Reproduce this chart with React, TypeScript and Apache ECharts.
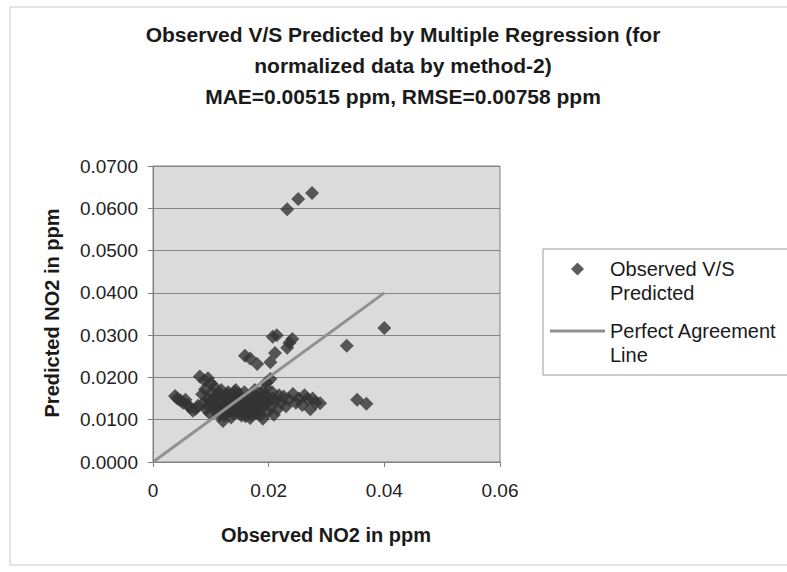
import React, { useEffect, useRef } from "react";
import * as echarts from "echarts";

const titleLines = [
  "Observed V/S Predicted by Multiple Regression (for",
  "normalized data by method-2)",
  "MAE=0.00515 ppm, RMSE=0.00758 ppm",
];
const xAxisTitle = "Observed NO2 in ppm";
const yAxisTitle = "Predicted NO2 in ppm";
const scatterName = "Observed V/S Predicted";
const lineName = "Perfect Agreement Line";

// Observed (x) and predicted (y) values
const observed = [
  0.0232, 0.0251, 0.0275, 0.0400, 0.0335, 0.0353, 0.0369,
  0.0159, 0.0168, 0.0180, 0.0203, 0.0211, 0.0207, 0.0214, 0.0232, 0.0241, 0.0236, 0.0203, 0.0196,
  0.0038, 0.0042, 0.0047, 0.0052, 0.0056, 0.0060, 0.0065, 0.0069, 0.0074, 0.0078,
  0.0081, 0.0089, 0.0095, 0.0100, 0.0106,
  0.0085, 0.0088, 0.0092, 0.0095, 0.0098, 0.0102, 0.0104, 0.0108, 0.0110, 0.0112,
  0.0115, 0.0118, 0.0120, 0.0121, 0.0124, 0.0127, 0.0130, 0.0132, 0.0135, 0.0138,
  0.0140, 0.0143, 0.0146, 0.0149, 0.0152, 0.0155, 0.0158, 0.0160, 0.0163, 0.0166,
  0.0168, 0.0170, 0.0173, 0.0176, 0.0178, 0.0181, 0.0184, 0.0187, 0.0190, 0.0192,
  0.0195, 0.0198, 0.0200, 0.0203, 0.0206, 0.0209, 0.0212, 0.0215, 0.0218,
  0.0100, 0.0114, 0.0126, 0.0136, 0.0144, 0.0154, 0.0164, 0.0174, 0.0184, 0.0194,
  0.0090, 0.0128, 0.0148, 0.0170, 0.0186,
  0.0222, 0.0226, 0.0230, 0.0235, 0.0242, 0.0247, 0.0252, 0.0258, 0.0262, 0.0267,
  0.0272, 0.0276, 0.0281, 0.0289,
  0.0107, 0.0117, 0.0133, 0.0141, 0.0151, 0.0161, 0.0171, 0.0179, 0.0189, 0.0199,
  0.0096, 0.0105, 0.0113, 0.0123, 0.0131, 0.0139, 0.0147, 0.0157, 0.0167, 0.0177,
  0.0188, 0.0197, 0.0207, 0.0119, 0.0153,
];
const predicted = [
  0.0598, 0.0622, 0.0636, 0.0317, 0.0275, 0.0147, 0.0138,
  0.0251, 0.0245, 0.0232, 0.0236, 0.0258, 0.0296, 0.0300, 0.0270, 0.0291, 0.0282, 0.0196, 0.0188,
  0.0156, 0.0150, 0.0146, 0.0140, 0.0147, 0.0134, 0.0128, 0.0121, 0.0126, 0.0133,
  0.0202, 0.0193, 0.0198, 0.0186, 0.0178,
  0.0160, 0.0140, 0.0125, 0.0150, 0.0115, 0.0165, 0.0135, 0.0120, 0.0155, 0.0145,
  0.0110, 0.0170, 0.0130, 0.0097, 0.0150, 0.0115, 0.0165, 0.0140, 0.0105, 0.0125,
  0.0155, 0.0170, 0.0135, 0.0115, 0.0150, 0.0128, 0.0165, 0.0108, 0.0142, 0.0120,
  0.0104, 0.0158, 0.0132, 0.0170, 0.0115, 0.0148, 0.0125, 0.0162, 0.0102, 0.0138,
  0.0175, 0.0118, 0.0150, 0.0130, 0.0165, 0.0112, 0.0145, 0.0125, 0.0158,
  0.0145, 0.0125, 0.0135, 0.0148, 0.0122, 0.0140, 0.0155, 0.0145, 0.0138, 0.0160,
  0.0172, 0.0160, 0.0160, 0.0112, 0.0112,
  0.0140, 0.0155, 0.0132, 0.0148, 0.0161, 0.0140, 0.0150, 0.0135, 0.0158, 0.0149,
  0.0125, 0.0150, 0.0140, 0.0139,
  0.0130, 0.0160, 0.0120, 0.0165, 0.0135, 0.0125, 0.0140, 0.0155, 0.0130, 0.0142,
  0.0135, 0.0150, 0.0160, 0.0110, 0.0150, 0.0115, 0.0145, 0.0118, 0.0128, 0.0122,
  0.0150, 0.0140, 0.0150, 0.0140, 0.0110,
];
const perfectX = [0, 0.04];
const perfectY = [0, 0.04];

const FONT = "'Liberation Sans', Arial, sans-serif";

export default function App() {
  const ref = useRef<HTMLDivElement>(null);
  useEffect(() => {
    const chart = echarts.init(ref.current!, null, { renderer: "svg" });
    const scatterData = observed.map((x, i) => [x, predicted[i]]);
    const lineData = perfectX.map((x, i) => [x, perfectY[i]]);
    chart.setOption({
      animation: false,
      backgroundColor: "#ffffff",
      grid: {
        left: 153,
        top: 166,
        width: 347,
        height: 296,
        show: true,
        backgroundColor: "#dbdbdb",
        borderColor: "#808080",
        borderWidth: 1,
      },
      xAxis: {
        type: "value",
        min: 0,
        max: 0.06,
        interval: 0.02,
        axisLine: { show: true, onZero: false, lineStyle: { color: "#808080" } },
        axisTick: { show: true, length: 5, lineStyle: { color: "#808080" } },
        splitLine: { show: false },
        axisLabel: {
          margin: 19,
          fontSize: 19,
          fontFamily: FONT,
          color: "#222",
          formatter: (v: number) => (v === 0 ? "0" : v.toFixed(2)),
        },
      },
      yAxis: {
        type: "value",
        min: 0,
        max: 0.07,
        interval: 0.01,
        axisLine: { show: true, onZero: false, lineStyle: { color: "#808080" } },
        axisTick: { show: true, length: 5, lineStyle: { color: "#808080" } },
        splitLine: { show: true, lineStyle: { color: "#858585", width: 1 } },
        axisLabel: {
          margin: 15,
          fontSize: 19,
          fontFamily: FONT,
          color: "#222",
          formatter: (v: number) => v.toFixed(4),
        },
      },
      legend: {
        orient: "vertical",
        left: 550,
        top: 233,
        padding: 0,
        itemWidth: 55,
        itemHeight: 13,
        itemGap: -10,
        selectedMode: false,
        symbolKeepAspect: true,
        data: [
          { name: scatterName, icon: "path://M0,-1L1,0L0,1L-1,0Z" },
          { name: lineName, icon: "path://M0,0L55,0L55,3L0,3Z" },
        ],
        formatter: (name: string) =>
          name === scatterName ? "\nObserved V/S\nPredicted" : "\nPerfect Agreement\nLine",
        textStyle: {
          fontSize: 20,
          fontFamily: FONT,
          color: "#1a1a1a",
          lineHeight: 24,
        },
      },
      graphic: [
        {
          type: "rect",
          shape: { x: 10, y: 7, width: 800, height: 558 },
          style: { fill: "none", stroke: "#c8c8c8", lineWidth: 1 },
          silent: true,
        },
        {
          type: "rect",
          shape: { x: 543, y: 249, width: 260, height: 126 },
          style: { fill: "none", stroke: "#9a9a9a", lineWidth: 1 },
          silent: true,
        },
        {
          type: "text",
          x: 403,
          y: 19,
          style: {
            text: titleLines.join("\n"),
            align: "center",
            verticalAlign: "top",
            fontSize: 21,
            fontWeight: "bold",
            fontFamily: FONT,
            lineHeight: 31,
            fill: "#1a1a1a",
          },
        },
        {
          type: "text",
          x: 326,
          y: 535,
          style: {
            text: xAxisTitle,
            align: "center",
            verticalAlign: "middle",
            fontSize: 20,
            fontWeight: "bold",
            fontFamily: FONT,
            fill: "#1a1a1a",
          },
        },
        {
          type: "text",
          x: 52,
          y: 313,
          rotation: Math.PI / 2,
          style: {
            text: yAxisTitle,
            align: "center",
            verticalAlign: "middle",
            fontSize: 20,
            fontWeight: "bold",
            fontFamily: FONT,
            fill: "#1a1a1a",
          },
        },
      ],
      series: [
        {
          name: lineName,
          type: "line",
          data: lineData,
          symbol: "none",
          lineStyle: { color: "#919191", width: 3 },
          itemStyle: { color: "#919191" },
          silent: true,
        },
        {
          name: scatterName,
          type: "scatter",
          data: scatterData,
          symbol: "diamond",
          symbolSize: 14,
          itemStyle: { color: "#333333" },
        },
      ],
    });
    return () => chart.dispose();
  }, []);
  return (
    <div
      ref={ref}
      style={{ position: "fixed", left: 0, top: 0, width: 787, height: 572 }}
    />
  );
}
